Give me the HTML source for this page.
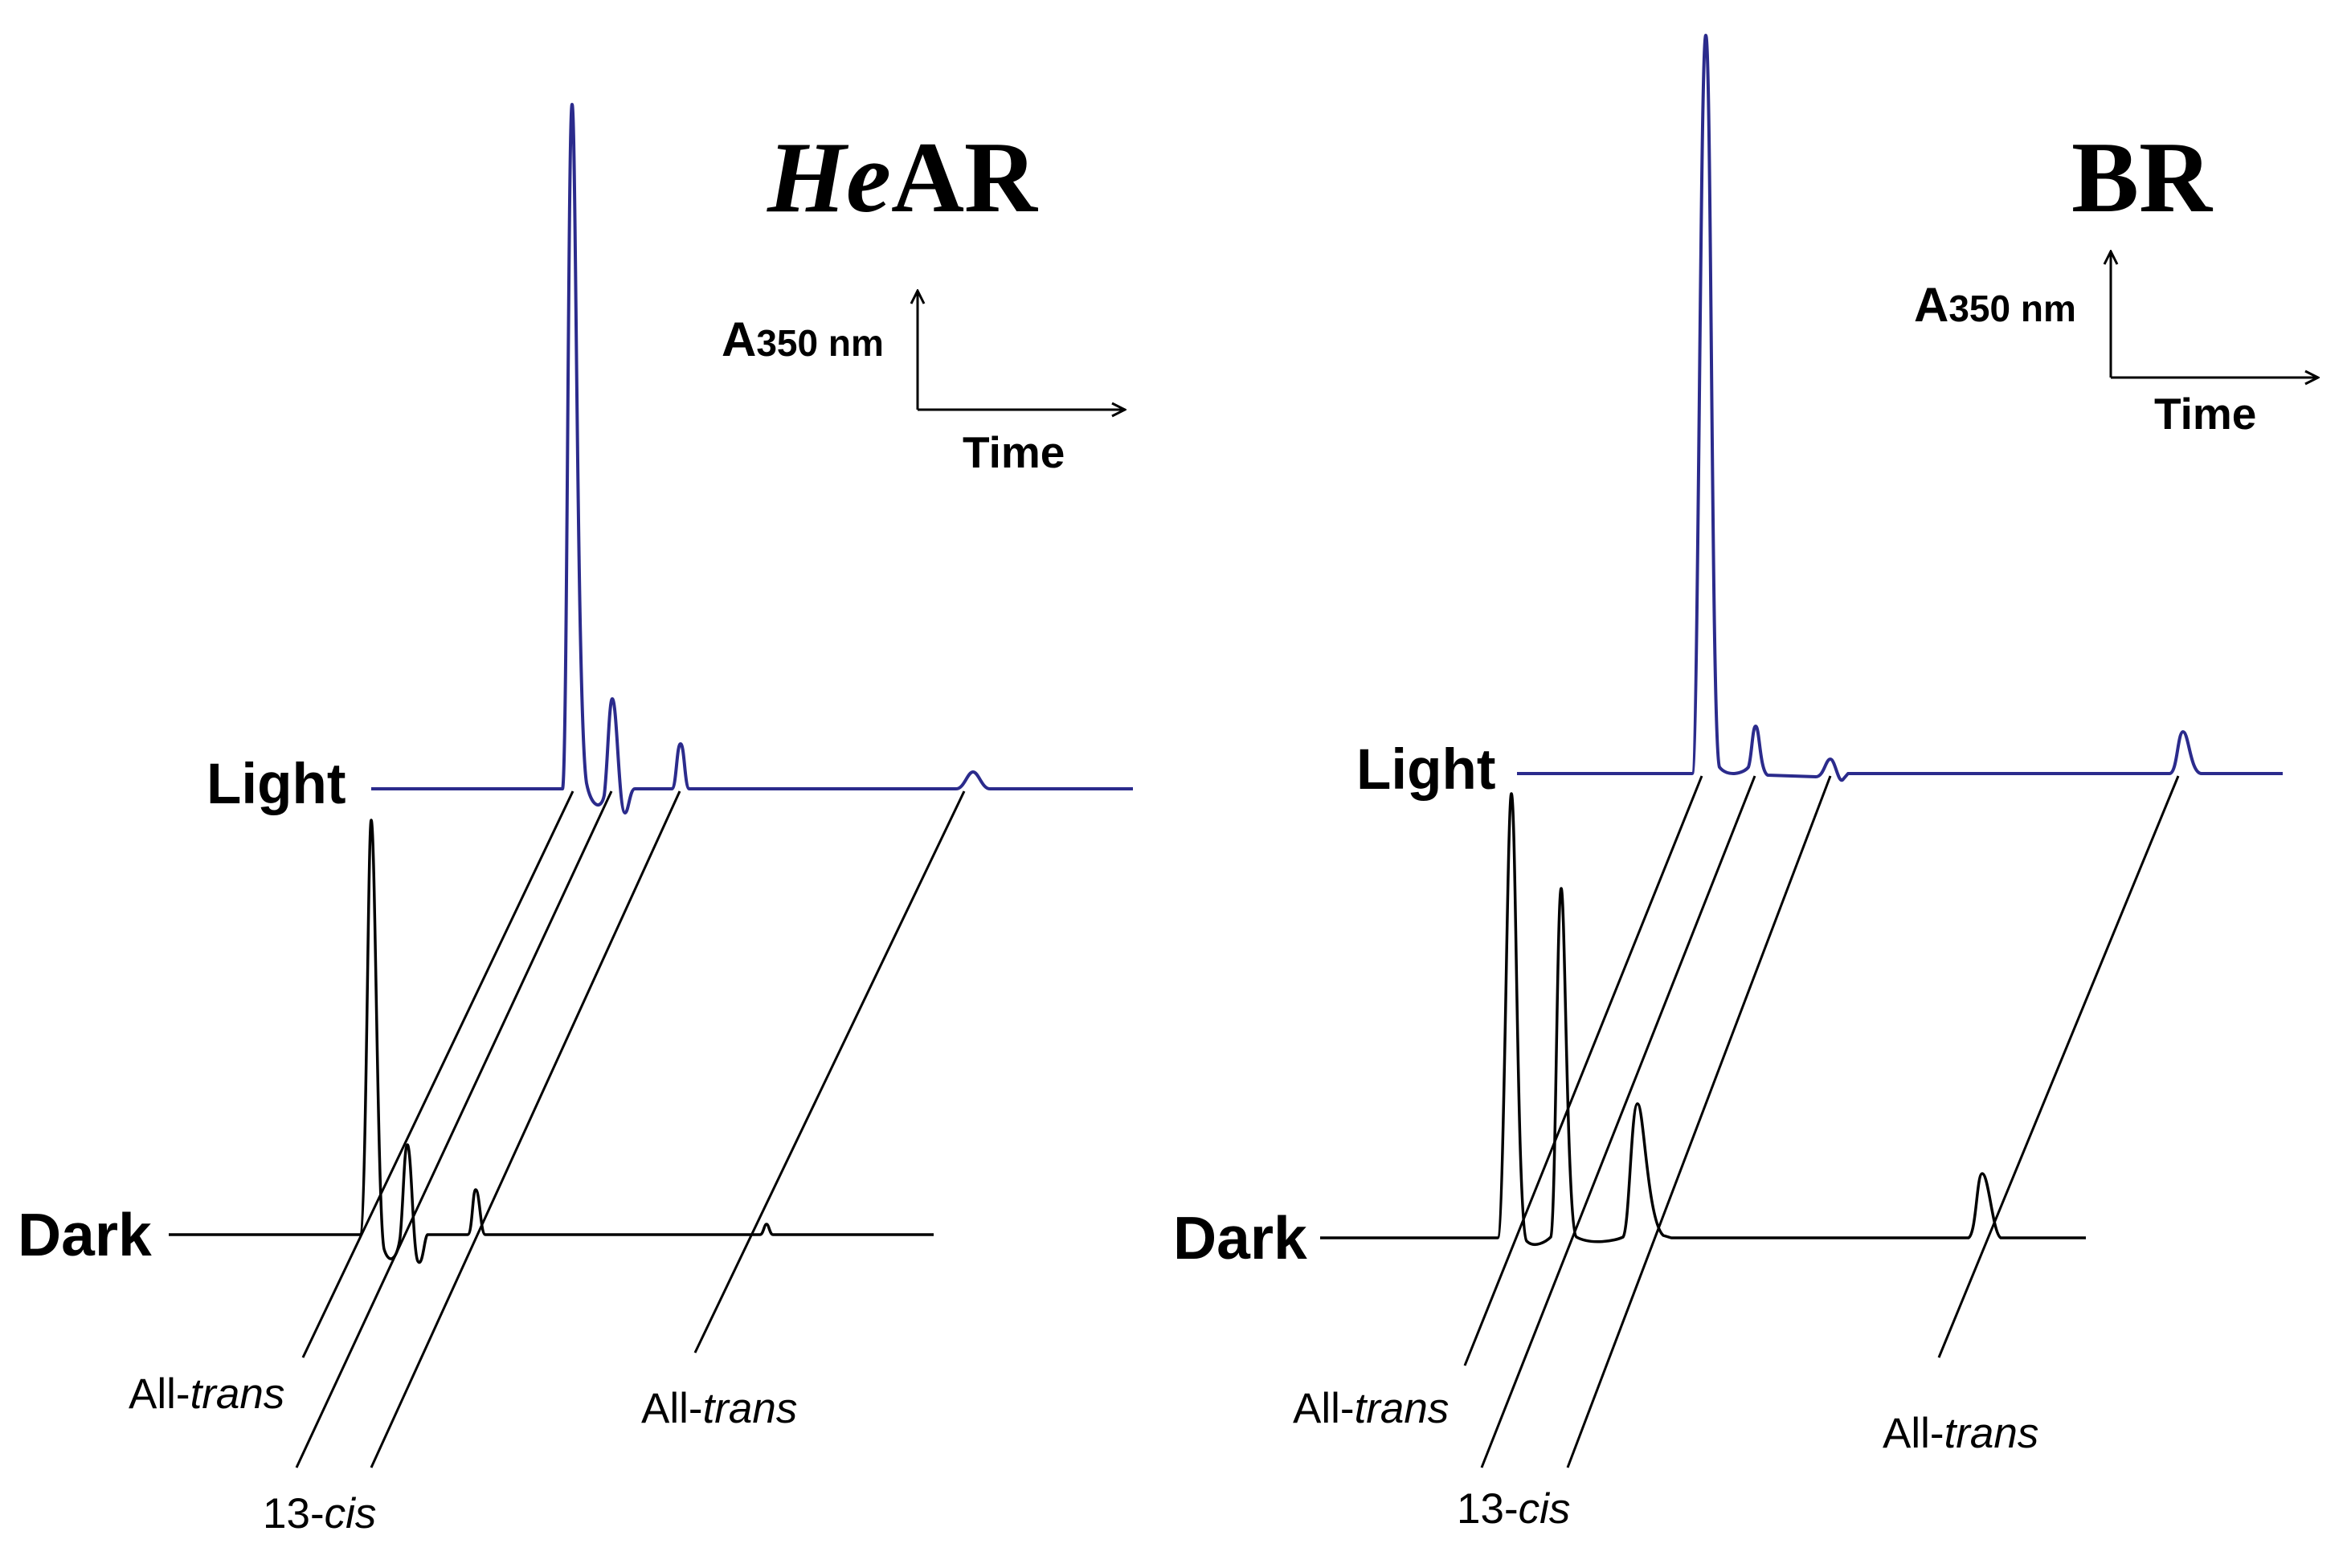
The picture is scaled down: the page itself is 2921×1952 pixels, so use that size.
<!DOCTYPE html>
<html><head><meta charset="utf-8"><style>html,body{margin:0;padding:0;background:#fff}svg{display:block}</style></head>
<body>
<svg width="2921" height="1952" viewBox="0 0 2921 1952" xmlns="http://www.w3.org/2000/svg">
<defs><marker id="ah" viewBox="0 0 20 20" refX="18" refY="10" markerWidth="20" markerHeight="20" markerUnits="userSpaceOnUse" orient="auto"><path d="M2,2 L18,10 L2,18" fill="none" stroke="#000" stroke-width="3"/></marker></defs>
<g fill="none" stroke-linejoin="round">
<!-- HeAR -->
<path stroke="#2b2b8c" stroke-width="4" d="M462,982 L700,982 C706,982 707,130 712,130 C717,130 718,900 730,975 C736,1005 748,1010 752,990 C756,960 758,870 762,870 C768,870 770,1012 778,1012 C782,1012 784,982 790,982 L836,982 C842,982 842,926 847,926 C852,926 852,982 858,982 L1190,982 C1200,982 1204,961 1211,961 C1218,961 1222,982 1232,982 L1410,982"/>
<path stroke="#000" stroke-width="3.5" d="M210,1537 L448,1537 C456,1537 458,1021 462,1021 C467,1021 470,1520 478,1555 C484,1575 494,1570 498,1540 C502,1500 503,1425 507,1425 C512,1425 514,1560 520,1570 C526,1580 528,1540 532,1537 L582,1537 C588,1537 588,1481 592,1481 C597,1481 598,1537 604,1537 L946,1537 C950,1537 951,1524 954,1524 C957,1524 958,1537 962,1537 L1162,1537"/>
<g stroke="#000" stroke-width="3">
<line x1="713" y1="985" x2="377" y2="1690"/>
<line x1="761" y1="985" x2="369" y2="1827"/>
<line x1="846" y1="985" x2="462" y2="1827"/>
<line x1="1200" y1="985" x2="865" y2="1684"/>
<line x1="1142" y1="510" x2="1142" y2="362" marker-end="url(#ah)"/>
<line x1="1142" y1="510" x2="1400" y2="510" marker-end="url(#ah)"/>
</g>
<!-- BR -->
<path stroke="#2b2b8c" stroke-width="4" d="M1888,963 L2106,963 C2114,963 2116,44 2123,44 C2130,44 2130,930 2140,955 C2150,968 2170,963 2176,955 C2180,945 2181,904 2185,904 C2190,904 2190,960 2200,965 L2260,967 C2270,967 2272,945 2278,945 C2284,945 2288,978 2294,970 L2300,963 L2700,963 C2710,963 2710,911 2717,911 C2724,911 2726,963 2740,963 L2841,963"/>
<path stroke="#000" stroke-width="3.5" d="M1643,1541 L1864,1541 C1872,1541 1876,988 1881,988 C1887,988 1888,1530 1900,1545 C1910,1555 1925,1545 1930,1540 C1936,1530 1938,1106 1943,1106 C1948,1106 1950,1530 1962,1540 C1980,1550 2010,1545 2020,1540 C2028,1530 2030,1374 2038,1374 C2046,1374 2050,1520 2070,1538 L2080,1541 L2450,1541 C2460,1535 2460,1461 2467,1461 C2475,1461 2480,1535 2490,1541 L2596,1541"/>
<g stroke="#000" stroke-width="3">
<line x1="2118" y1="966" x2="1823" y2="1700"/>
<line x1="2184" y1="966" x2="1844" y2="1827"/>
<line x1="2278" y1="966" x2="1951" y2="1827"/>
<line x1="2711" y1="966" x2="2413" y2="1690"/>
<line x1="2627" y1="470" x2="2627" y2="313" marker-end="url(#ah)"/>
<line x1="2627" y1="470" x2="2885" y2="470" marker-end="url(#ah)"/>
</g>
</g>
<g font-family="Liberation Sans, sans-serif" fill="#000">
<text x="257" y="1000" font-size="71" font-weight="bold">Light</text>
<text x="22" y="1563" font-size="75" font-weight="bold">Dark</text>
<text x="160" y="1753" font-size="53">All-<tspan font-style="italic">trans</tspan></text>
<text x="327" y="1902" font-size="53">13-<tspan font-style="italic">cis</tspan></text>
<text x="798" y="1771" font-size="53">All-<tspan font-style="italic">trans</tspan></text>
<text x="898" y="443" font-weight="bold"><tspan font-size="60">A</tspan><tspan font-size="46">350 nm</tspan></text>
<text x="1198" y="582" font-size="55" font-weight="bold">Time</text>
<text x="955" y="263" font-size="126" font-weight="bold" font-family="Liberation Serif, serif"><tspan font-style="italic">He</tspan>AR</text>

<text x="1688" y="982" font-size="71" font-weight="bold">Light</text>
<text x="1460" y="1567" font-size="75" font-weight="bold">Dark</text>
<text x="1609" y="1771" font-size="53">All-<tspan font-style="italic">trans</tspan></text>
<text x="1813" y="1896" font-size="53">13-<tspan font-style="italic">cis</tspan></text>
<text x="2343" y="1802" font-size="53">All-<tspan font-style="italic">trans</tspan></text>
<text x="2382" y="400" font-weight="bold"><tspan font-size="60">A</tspan><tspan font-size="46">350 nm</tspan></text>
<text x="2681" y="534" font-size="55" font-weight="bold">Time</text>
<text x="2578" y="263" font-size="126" font-weight="bold" font-family="Liberation Serif, serif">BR</text>
</g>
</svg>
</body></html>
